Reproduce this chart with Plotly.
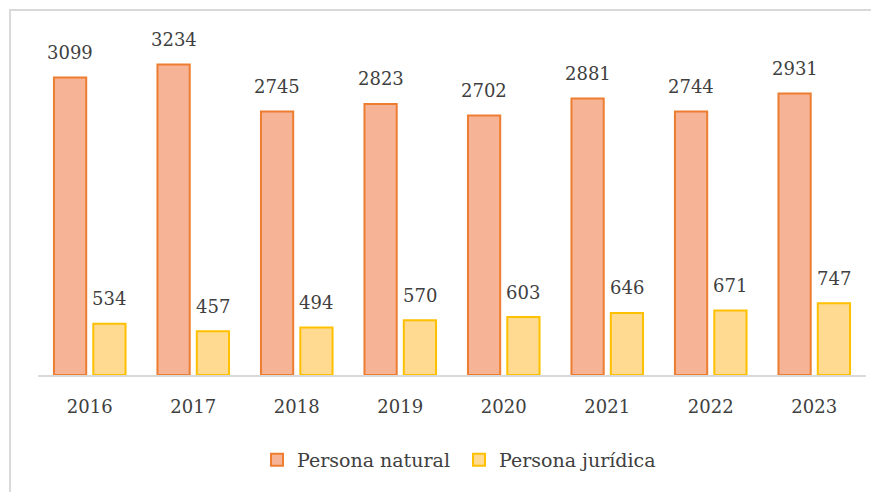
import plotly.graph_objects as go

years = ["2016", "2017", "2018", "2019", "2020", "2021", "2022", "2023"]
persona_natural = [3099, 3234, 2745, 2823, 2702, 2881, 2744, 2931]
persona_juridica = [534, 457, 494, 570, 603, 646, 671, 747]

FONT = "DejaVu Serif"
TXT = "#404040"

fig = go.Figure()
fig.add_trace(go.Bar(
    x=years, y=persona_natural, name="Persona natural",
    marker=dict(color="#F6B395", line=dict(color="#ED7D31", width=2)),
))
fig.add_trace(go.Bar(
    x=years, y=persona_juridica, name="Persona jurídica",
    marker=dict(color="#FFDA90", line=dict(color="#FFC000", width=2)),
))

annotations = []
for i, (a, b) in enumerate(zip(persona_natural, persona_juridica)):
    annotations.append(dict(x=i - 0.19, y=a, xref="x", yref="y", text=str(a),
                            showarrow=False, yanchor="middle", yshift=25,
                            font=dict(family=FONT, size=18, color=TXT)))
    annotations.append(dict(x=i + 0.19, y=b, xref="x", yref="y", text=str(b),
                            showarrow=False, yanchor="middle", yshift=25,
                            font=dict(family=FONT, size=18, color=TXT)))

# plot area (figure coords): x 30..858, axis at y 367
L, R, T, B = 30, 21, 31, 125
PW, PH = 879 - L - R, 492 - T - B

fig.update_layout(
    width=879, height=492,
    margin=dict(l=L, r=R, t=T, b=B),
    paper_bgcolor="white", plot_bgcolor="white",
    barmode="group", bargap=0.24, bargroupgap=0.18,
    font=dict(family=FONT, size=18, color=TXT),
    showlegend=True,
    legend=dict(orientation="h", x=(451 - L) / PW, xanchor="center",
                y=-(452 - (T + PH)) / PH, yanchor="middle",
                font=dict(family=FONT, size=19, color=TXT), itemwidth=30,
                entrywidth=157),
    annotations=annotations,
    shapes=[dict(type="rect", xref="paper", yref="paper",
                 x0=(2 - L) / PW, x1=1.2, y0=-0.6, y1=1 + (T - 2) / PH,
                 line=dict(color="#D9D9D9", width=2), fillcolor="rgba(0,0,0,0)",
                 layer="below")],
)
fig.update_xaxes(showline=True, linecolor="#D9D9D9", linewidth=2, ticks="",
                 showgrid=False, ticklabelstandoff=14,
                 tickfont=dict(family=FONT, size=18, color=TXT))
fig.update_yaxes(visible=False, range=[0, 3500], showgrid=False)

fig.write_html("out.html")
